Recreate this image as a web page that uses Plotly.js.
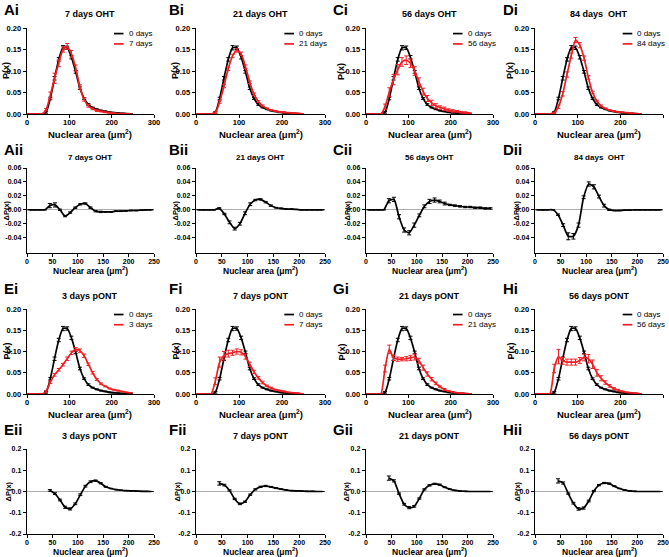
<!DOCTYPE html>
<html><head><meta charset="utf-8">
<script src="https://cdn.plot.ly/plotly-3.0.1.min.js"></script>
<style>html,body{margin:0;padding:0;background:#fff;}#chart{width:669px;height:557px;}</style>
</head><body><div id="chart"></div>
<script>
// ---------- DATA ----------
const area = [5,15,25,35,45,55,65,75,85,95,105,115,125,135,145,155,165,175,185,195,205,215,225,235,245];

const p0days    = [0,0,0,0,0.004,0.036,0.083,0.127,0.154,0.154,0.132,0.098,0.060,0.036,0.022,0.015,0.011,0.008,0.006,0.004,0.003,0.002,0.0015,0.001,0.0005];
const p0daysErr = [0,0,0,0,0.002,0.003,0.004,0.004,0.005,0.004,0.004,0.003,0.003,0.002,0.002,0.001,0.001,0.001,0.001,0.001,0.001,0,0,0,0];

const pOHT7     = [0,0,0,0,0.010,0.043,0.083,0.118,0.150,0.157,0.140,0.107,0.063,0.034,0.019,0.012,0.008,0.006,0.004,0.003,0.002,0.001,0.001,0.0005,0];
const pOHT7Err  = [0,0,0,0,0.003,0.008,0.012,0.008,0.006,0.007,0.008,0.007,0.005,0.004,0.003,0.002,0.002,0.001,0.001,0.001,0.001,0,0,0,0];
const pOHT21    = [0,0,0,0,0.003,0.028,0.065,0.105,0.135,0.148,0.140,0.110,0.074,0.046,0.029,0.019,0.013,0.009,0.007,0.005,0.004,0.003,0.002,0.0015,0.001];
const pOHT21Err = [0,0,0,0,0.002,0.003,0.004,0.004,0.004,0.004,0.004,0.004,0.003,0.003,0.002,0.002,0.001,0.001,0.001,0.001,0.001,0,0,0,0];
const pOHT56    = [0,0,0,0,0.017,0.051,0.080,0.103,0.121,0.125,0.118,0.100,0.075,0.052,0.036,0.026,0.019,0.015,0.012,0.009,0.007,0.006,0.004,0.003,0.002];
const pOHT56Err = [0,0,0,0,0.006,0.010,0.012,0.012,0.010,0.010,0.010,0.010,0.009,0.008,0.007,0.006,0.005,0.004,0.004,0.003,0.003,0.002,0.002,0.002,0.001];
const pOHT84    = [0,0,0,0,0.002,0.017,0.047,0.092,0.136,0.172,0.160,0.130,0.085,0.050,0.030,0.019,0.013,0.009,0.007,0.005,0.004,0.003,0.002,0.001,0.0005];
const pOHT84Err = [0,0,0,0,0.002,0.004,0.005,0.006,0.006,0.006,0.006,0.005,0.004,0.003,0.002,0.002,0.001,0.001,0.001,0.001,0,0,0,0,0];

const dOHT7     = [0,0,0,0,0.006,0.007,0.000,-0.009,-0.004,0.003,0.008,0.009,0.003,-0.002,-0.003,-0.003,-0.003,-0.002,-0.002,-0.0015,-0.001,-0.001,-0.0005,0,0];
const dOHT7Err  = [0,0,0,0,0.003,0.003,0.001,0.001,0.001,0.001,0.001,0.001,0.001,0.001,0.001,0.0005,0.0005,0.0005,0.0005,0.0005,0.0005,0.0005,0,0,0];
const dOHT21    = [0,0,0,0,0.002,-0.006,-0.018,-0.027,-0.020,-0.005,0.008,0.014,0.015,0.011,0.006,0.003,0.002,0.001,0.001,0.0005,0,0,0,0,0];
const dOHT21Err = [0,0,0,0,0.001,0.001,0.002,0.002,0.002,0.002,0.002,0.001,0.001,0.001,0.001,0.0005,0.0005,0.0005,0.0005,0,0,0,0,0,0];
const dOHT56    = [0,0,0,0,0.013,0.015,-0.010,-0.029,-0.033,-0.022,-0.008,0.005,0.012,0.014,0.012,0.009,0.007,0.006,0.005,0.004,0.004,0.003,0.003,0.002,0.002];
const dOHT56Err = [0,0,0,0,0.003,0.003,0.003,0.003,0.003,0.003,0.002,0.002,0.003,0.003,0.002,0.002,0.001,0.001,0.001,0.001,0.001,0.001,0.001,0.001,0.001];
const dOHT84    = [0,0,0,0,-0.007,-0.022,-0.038,-0.038,-0.022,0.018,0.037,0.033,0.019,0.006,0,-0.001,-0.001,-0.0005,-0.0005,0,0,0,0,0,0];
const dOHT84Err = [0,0,0,0,0.001,0.002,0.005,0.004,0.003,0.002,0.003,0.003,0.002,0.002,0.001,0.0005,0.0005,0,0,0,0,0,0,0,0];

const pPONT3     = [0,0,0,0,0.006,0.028,0.045,0.057,0.069,0.083,0.097,0.105,0.102,0.090,0.070,0.050,0.034,0.024,0.018,0.013,0.010,0.008,0.006,0.004,0.003];
const pPONT3Err  = [0,0,0,0,0.002,0.003,0.003,0.003,0.003,0.004,0.004,0.004,0.004,0.004,0.003,0.003,0.002,0.002,0.001,0.001,0.001,0.001,0,0,0];
const pPONT7     = [0,0,0,0,0.030,0.075,0.090,0.095,0.097,0.100,0.098,0.088,0.070,0.052,0.038,0.027,0.019,0.014,0.010,0.008,0.006,0.004,0.003,0.002,0.001];
const pPONT7Err  = [0,0,0,0,0.008,0.012,0.010,0.008,0.006,0.006,0.006,0.006,0.005,0.004,0.003,0.003,0.002,0.002,0.001,0.001,0.001,0,0,0,0];
const pPONT21    = [0,0,0,0,0.060,0.105,0.085,0.082,0.082,0.083,0.085,0.087,0.078,0.062,0.047,0.035,0.025,0.017,0.011,0.007,0.005,0.003,0.002,0.001,0.0005];
const pPONT21Err = [0,0,0,0,0.008,0.010,0.006,0.005,0.004,0.005,0.006,0.007,0.006,0.006,0.005,0.004,0.003,0.002,0.002,0.001,0.001,0,0,0,0];
const pPONT56    = [0,0,0,0,0.060,0.088,0.078,0.075,0.075,0.075,0.079,0.086,0.083,0.070,0.050,0.037,0.027,0.019,0.013,0.009,0.006,0.004,0.003,0.002,0.001];
const pPONT56Err = [0,0,0,0,0.010,0.017,0.008,0.007,0.007,0.007,0.007,0.008,0.010,0.010,0.008,0.006,0.004,0.003,0.002,0.002,0.001,0,0,0,0];

const dPONT3     = [null,null,null,null,0.005,-0.010,-0.040,-0.074,-0.082,-0.058,-0.015,0.025,0.046,0.051,0.039,0.022,0.014,0.009,0.006,0.004,0.003,0.002,0.001,0.0005,0];
const dPONT3Err  = [null,null,null,null,0.004,0.004,0.004,0.005,0.005,0.004,0.004,0.004,0.004,0.003,0.003,0.002,0.001,0.001,0.001,0,0,0,0,0,0];
const dPONT7     = [null,null,null,null,0.038,0.030,0.005,-0.035,-0.058,-0.048,-0.015,0.010,0.022,0.026,0.022,0.016,0.011,0.007,0.004,0.003,0.002,0.001,0.001,0,0];
const dPONT7Err  = [null,null,null,null,0.008,0.004,0.003,0.003,0.004,0.003,0.003,0.003,0.003,0.003,0.002,0.002,0.001,0.001,0.001,0,0,0,0,0,0];
const dPONT21    = [null,null,null,null,0.063,0.050,-0.010,-0.060,-0.076,-0.070,-0.033,0.010,0.029,0.036,0.032,0.020,0.011,0.005,0.002,0.001,0,0,0,0,0];
const dPONT21Err = [null,null,null,null,0.010,0.005,0.003,0.004,0.005,0.004,0.003,0.003,0.003,0.003,0.003,0.002,0.001,0.001,0,0,0,0,0,0,0];
const dPONT56    = [null,null,null,null,0.050,0.040,-0.010,-0.055,-0.082,-0.078,-0.045,0.002,0.030,0.040,0.037,0.025,0.014,0.007,0.003,0.001,0,0,0,0,0];
const dPONT56Err = [null,null,null,null,0.010,0.005,0.003,0.004,0.006,0.005,0.004,0.003,0.003,0.003,0.003,0.002,0.001,0.001,0,0,0,0,0,0,0];

const panelLabels = [['Ai','Bi','Ci','Di'],['Aii','Bii','Cii','Dii'],['Ei','Fi','Gi','Hi'],['Eii','Fii','Gii','Hii']];
const ohtTitles  = ['7 days OHT','21 days OHT','56 days OHT','84 days  OHT'];
const pontTitles = ['3 days pONT','7 days pONT','21 days pONT','56 days pONT'];
const ohtNames   = ['7 days','21 days','56 days','84 days'];
const pontNames  = ['3 days','7 days','21 days','56 days'];
const controlName = '0 days';

const xTicksP = [0,100,200,300];
const xTicksD = [0,50,100,150,200,250];
const yTicksP = [0,0.05,0.10,0.15,0.20];
const yTextP  = ['0.00','0.05','0.10','0.15','0.20'];
const yTicksD1 = [-0.04,-0.02,0,0.02,0.04,0.06];
const yTextD1  = ['-0.04','-0.02','0.00','0.02','0.04','0.06'];
const yTicksD2 = [-0.2,-0.1,0,0.1,0.2];
const yTextD2  = ['-0.2','-0.1','0.0','0.1','0.2'];

const treatedP = [[pOHT7,pOHT21,pOHT56,pOHT84],[pPONT3,pPONT7,pPONT21,pPONT56]];
const treatedPErr = [[pOHT7Err,pOHT21Err,pOHT56Err,pOHT84Err],[pPONT3Err,pPONT7Err,pPONT21Err,pPONT56Err]];
const diffs = [[dOHT7,dOHT21,dOHT56,dOHT84],[dPONT3,dPONT7,dPONT21,dPONT56]];
const diffsErr = [[dOHT7Err,dOHT21Err,dOHT56Err,dOHT84Err],[dPONT3Err,dPONT7Err,dPONT21Err,dPONT56Err]];

// ---------- LAYOUT ----------
const W = 669, H = 557;
const FONT = 'Liberation Sans, Arial, Helvetica, sans-serif';
const RED = '#f01e23';
const colDom = [[27,154],[196,325],[366,493],[535,663]];
const rowDom = [[28,114],[168,253],[309,394],[449,534]];
const titleY = [14,157,296,436];
const letterY = [10,149,289,429];
const letterX = [2,167,331,501];
const xTitleY = [134,270,414,551];
const yTitleX = [[6,175,341,510],[6,175,347,516],[6,175,341,510],[8,177,346,517]];

const traces = [];
const layout = {
  width: W, height: H, margin: {l:0,r:0,t:0,b:0},
  paper_bgcolor: '#fff', plot_bgcolor: 'rgba(0,0,0,0)',
  showlegend: false, font: {family: FONT, color: '#000'},
  annotations: [], shapes: []
};

function ax(k){ return k===1 ? '' : String(k); }
const lineStyle = (c) => ({color: c, width: 1.7, shape: 'spline', smoothing: 0.6});
const errStyle = (arr, c) => ({type:'data', array: arr, visible: true, color: c, thickness: 1, width: 2});

for (let r = 0; r < 4; r++) {
  for (let c = 0; c < 4; c++) {
    const k = r*4 + c + 1;
    const s = ax(k);
    const isP = (r % 2 === 0);
    const grp = r < 2 ? 0 : 1;
    const xd = [colDom[c][0]/W, colDom[c][1]/W];
    const yd = [1 - rowDom[r][1]/H, 1 - rowDom[r][0]/H];
    const tickFont = {family: FONT, size: isP ? 7.5 : 7, weight: 'bold', color: '#000'};
    layout['xaxis'+s] = {
      domain: xd, anchor: 'y'+s, range: isP ? [0,300] : [0,250],
      tickmode: 'array', tickvals: isP ? xTicksP : xTicksD,
      showgrid: false, zeroline: false, showline: true, linecolor: '#000', linewidth: 1.3,
      ticks: 'outside', ticklen: 3, tickwidth: 1, tickcolor: '#000', tickfont: tickFont,
      ticklabelstandoff: -2,
      layer: 'below traces', fixedrange: true
    };
    let yv, yt, yr;
    if (isP) { yv = yTicksP; yt = yTextP; yr = [0,0.2]; }
    else if (r === 1) { yv = yTicksD1; yt = yTextD1; yr = [-0.062,0.06]; }
    else { yv = yTicksD2; yt = yTextD2; yr = [-0.2,0.2]; }
    layout['yaxis'+s] = {
      domain: yd, anchor: 'x'+s, range: yr, tickmode: 'array', tickvals: yv, ticktext: yt,
      showgrid: false, zeroline: !isP, zerolinecolor: '#9a9a9a', zerolinewidth: 0.8,
      showline: true, linecolor: '#000', linewidth: 1.3,
      ticks: 'outside', ticklen: 3, tickwidth: 1, tickcolor: '#000', tickfont: tickFont,
      layer: 'below traces', fixedrange: true
    };

    if (isP) {
      traces.push({type:'scatter', mode:'lines', x: area, y: p0days, xaxis:'x'+s, yaxis:'y'+s,
        name: controlName, line: lineStyle('#000'), error_y: errStyle(p0daysErr,'#000'), cliponaxis: false});
      traces.push({type:'scatter', mode:'lines', x: area, y: treatedP[grp][c], xaxis:'x'+s, yaxis:'y'+s,
        name: (grp===0?ohtNames:pontNames)[c], line: lineStyle(RED), error_y: errStyle(treatedPErr[grp][c],RED), cliponaxis: false});
      const names = [controlName, (grp===0?ohtNames:pontNames)[c]];
      const cols = ['#000', RED];
      const ly = [0.935, 0.815];
      for (let i = 0; i < 2; i++) {
        layout.shapes.push({type:'line', xref:'x'+s+' domain', yref:'y'+s+' domain',
          x0:0.685, x1:0.76, y0:ly[i], y1:ly[i], line:{color:cols[i], width:1.7}});
        layout.annotations.push({xref:'x'+s+' domain', yref:'y'+s+' domain', x:0.785, y:ly[i],
          xanchor:'left', yanchor:'middle', showarrow:false, text:names[i],
          font:{family:FONT, size:8, color:'#000'}});
      }
    } else {
      traces.push({type:'scatter', mode:'lines', x: area, y: diffs[grp][c], xaxis:'x'+s, yaxis:'y'+s,
        line: lineStyle('#000'), error_y: errStyle(diffsErr[grp][c],'#000'), connectgaps: false});
    }

    layout.annotations.push({xref:'paper', yref:'paper', x:(xd[0]+xd[1])/2, y:1 - titleY[r]/H,
      xanchor:'center', yanchor:'middle', showarrow:false,
      text:(grp===0?ohtTitles:pontTitles)[c],
      font:{family:FONT, size: r===1 ? 8 : 9, weight:'bold', color:'#000'}});
    layout.annotations.push({xref:'paper', yref:'paper', x:letterX[c]/W, y:1 - letterY[r]/H,
      xanchor:'left', yanchor:'middle', showarrow:false, text:panelLabels[r][c],
      font:{family:FONT, size:15, weight:'bold', color:'#000'}});
    layout.annotations.push({xref:'paper', yref:'paper', x:(xd[0]+xd[1])/2, y:1 - xTitleY[r]/H,
      xanchor:'center', yanchor:'middle', showarrow:false, text:'Nuclear area (μm<sup>2</sup>)',
      font:{family:FONT, size: isP ? 9.5 : 8.5, weight:'bold', color:'#000'}});
    layout.annotations.push({xref:'paper', yref:'paper', x:yTitleX[r][c]/W, y:(yd[0]+yd[1])/2,
      xanchor:'center', yanchor:'middle', showarrow:false, textangle:-90,
      text: isP ? 'P(x)' : 'ΔP(x)',
      font:{family:FONT, size: isP ? 9 : 7.5, weight:'bold', color:'#000'}});
  }
}

Plotly.newPlot('chart', traces, layout, {staticPlot: true, displayModeBar: false});
</script>
</body></html>
